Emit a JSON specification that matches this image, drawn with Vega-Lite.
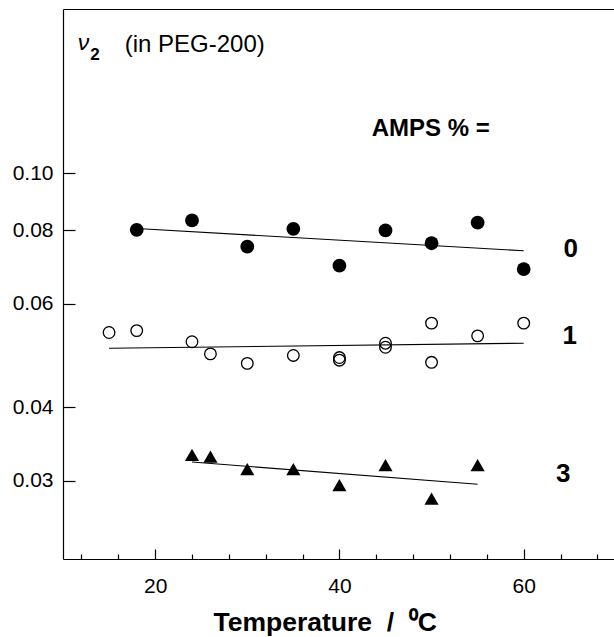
{
  "$schema": "https://vega.github.io/schema/vega-lite/v6.json",
  "width": 551,
  "height": 550,
  "autosize": {"type": "none"},
  "padding": {"left": 63, "top": 9, "right": 0, "bottom": 78},
  "background": "white",
  "config": {
    "view": {"stroke": null},
    "font": "Liberation Sans",
    "axis": {
      "domainColor": "black", "domainWidth": 1.2, "tickColor": "black", "tickWidth": 1.2,
      "labelColor": "black", "labelFont": "Liberation Sans", "labelFontSize": 21,
      "titleColor": "black", "titleFont": "Liberation Sans", "grid": false
    }
  },
  "datasets": {
    "pts": [
      {"amps": 0, "T": 18, "v": 0.0801}, {"amps": 0, "T": 24, "v": 0.0831}, {"amps": 0, "T": 30, "v": 0.0750},
      {"amps": 0, "T": 35, "v": 0.0804}, {"amps": 0, "T": 40, "v": 0.0696}, {"amps": 0, "T": 45, "v": 0.0799},
      {"amps": 0, "T": 50, "v": 0.0760}, {"amps": 0, "T": 55, "v": 0.0824}, {"amps": 0, "T": 60, "v": 0.0687},
      {"amps": 1, "T": 15, "v": 0.0536}, {"amps": 1, "T": 18, "v": 0.0540}, {"amps": 1, "T": 24, "v": 0.0517},
      {"amps": 1, "T": 26, "v": 0.0493}, {"amps": 1, "T": 30, "v": 0.0475}, {"amps": 1, "T": 35, "v": 0.0490},
      {"amps": 1, "T": 40, "v": 0.0486}, {"amps": 1, "T": 40, "v": 0.0481}, {"amps": 1, "T": 45, "v": 0.0514},
      {"amps": 1, "T": 45, "v": 0.0506}, {"amps": 1, "T": 50, "v": 0.0556}, {"amps": 1, "T": 50, "v": 0.0477},
      {"amps": 1, "T": 55, "v": 0.0529}, {"amps": 1, "T": 60, "v": 0.0556},
      {"amps": 3, "T": 24, "v": 0.0332}, {"amps": 3, "T": 26, "v": 0.0330}, {"amps": 3, "T": 30, "v": 0.0314},
      {"amps": 3, "T": 35, "v": 0.0314}, {"amps": 3, "T": 40, "v": 0.0295}, {"amps": 3, "T": 45, "v": 0.0319},
      {"amps": 3, "T": 50, "v": 0.0280}, {"amps": 3, "T": 55, "v": 0.0319}
    ],
    "fits": [
      {"amps": 0, "T": 18, "v": 0.0805}, {"amps": 0, "T": 60, "v": 0.0738},
      {"amps": 1, "T": 15, "v": 0.0504}, {"amps": 1, "T": 60, "v": 0.0514},
      {"amps": 3, "T": 24, "v": 0.0323}, {"amps": 3, "T": 55, "v": 0.0296}
    ],
    "serieslabels": [
      {"T": 65.1, "v": 0.0721, "label": "0"},
      {"T": 65.0, "v": 0.0513, "label": "1"},
      {"T": 64.3, "v": 0.02988, "label": "3"}
    ]
  },
  "resolve": {"axis": {"x": "independent", "y": "independent"}},
  "layer": [
    {
      "data": {"name": "pts"},
      "transform": [{"filter": "datum.amps == 0"}],
      "mark": {"type": "point", "shape": "circle", "filled": true, "color": "black", "size": 190, "opacity": 1},
      "encoding": {
        "x": {
          "field": "T", "type": "quantitative",
          "scale": {"domain": [10, 69.8], "nice": false, "zero": false},
          "axis": {
            "orient": "bottom", "values": [20, 40, 60], "tickSize": -10, "labelPadding": 26,
            "labelFlush": false, "domain": true,
            "title": "Temperature\u00a0\u00a0/\u00a0\u00a0⁰C", "titleFontSize": 26.5, "titleFontWeight": "bold",
            "titleAlign": "left", "titleAnchor": "start", "titleX": 150, "titleY": 71, "titleBaseline": "alphabetic"
          }
        },
        "y": {
          "field": "v", "type": "quantitative",
          "scale": {"type": "log", "domain": [0.0221, 0.19], "nice": false, "zero": false},
          "axis": {
            "orient": "left", "values": [0.03, 0.04, 0.06, 0.08, 0.1], "format": ".2f",
            "tickSize": -12, "labelPadding": 22, "labelFlush": false, "domain": true, "title": null
          }
        }
      }
    },
    {
      "data": {"name": "pts"},
      "transform": [{"filter": "datum.amps == 1"}],
      "mark": {"type": "point", "shape": "circle", "filled": false, "color": "black", "size": 135, "strokeWidth": 1.3, "opacity": 1},
      "encoding": {
        "x": {
          "field": "T", "type": "quantitative",
          "axis": {
            "orient": "bottom", "values": [12, 16, 24, 28, 32, 36, 44, 48, 52, 56, 64, 68],
            "tickSize": -5, "labels": false, "domain": false, "title": null
          }
        },
        "y": {"field": "v", "type": "quantitative", "axis": null}
      }
    },
    {
      "data": {"name": "pts"},
      "transform": [{"filter": "datum.amps == 3"}],
      "mark": {"type": "point", "shape": "triangle-up", "filled": true, "color": "black", "size": 200, "opacity": 1},
      "encoding": {
        "x": {
          "field": "T", "type": "quantitative",
          "axis": {"orient": "top", "ticks": false, "labels": false, "domain": true, "title": null}
        },
        "y": {"field": "v", "type": "quantitative", "axis": null}
      }
    },
    {
      "data": {"name": "fits"},
      "mark": {"type": "line", "color": "black", "strokeWidth": 1.1},
      "encoding": {
        "x": {"field": "T", "type": "quantitative", "axis": null},
        "y": {"field": "v", "type": "quantitative", "axis": null},
        "detail": {"field": "amps", "type": "nominal"}
      }
    },
    {
      "data": {"name": "serieslabels"},
      "mark": {"type": "text", "fontSize": 26, "fontWeight": "bold", "align": "center", "baseline": "alphabetic", "color": "black"},
      "encoding": {
        "x": {"field": "T", "type": "quantitative", "axis": null},
        "y": {"field": "v", "type": "quantitative", "axis": null},
        "text": {"field": "label"}
      }
    },
    {
      "data": {"values": [{"T": 43.5, "v": 0.1154, "label": "AMPS % ="}]},
      "mark": {"type": "text", "fontSize": 24, "fontWeight": "bold", "align": "left", "baseline": "alphabetic", "color": "black"},
      "encoding": {
        "x": {"field": "T", "type": "quantitative", "axis": null},
        "y": {"field": "v", "type": "quantitative", "axis": null},
        "text": {"field": "label"}
      }
    },
    {
      "data": {"values": [{"T": 11.6, "v": 0.162, "label": "ν"}]},
      "mark": {"type": "text", "fontSize": 23, "fontStyle": "italic", "align": "left", "baseline": "alphabetic", "color": "black"},
      "encoding": {
        "x": {"field": "T", "type": "quantitative", "axis": null},
        "y": {"field": "v", "type": "quantitative", "axis": null},
        "text": {"field": "label"}
      }
    },
    {
      "data": {"values": [{"T": 12.95, "v": 0.1558, "label": "2"}]},
      "mark": {"type": "text", "fontSize": 17, "fontWeight": "bold", "align": "left", "baseline": "alphabetic", "color": "black"},
      "encoding": {
        "x": {"field": "T", "type": "quantitative", "axis": null},
        "y": {"field": "v", "type": "quantitative", "axis": null},
        "text": {"field": "label"}
      }
    },
    {
      "data": {"values": [{"T": 16.7, "v": 0.1606, "label": "(in PEG-200)"}]},
      "mark": {"type": "text", "fontSize": 24, "align": "left", "baseline": "alphabetic", "color": "black"},
      "encoding": {
        "x": {"field": "T", "type": "quantitative", "axis": null},
        "y": {"field": "v", "type": "quantitative", "axis": null},
        "text": {"field": "label"}
      }
    }
  ]
}
